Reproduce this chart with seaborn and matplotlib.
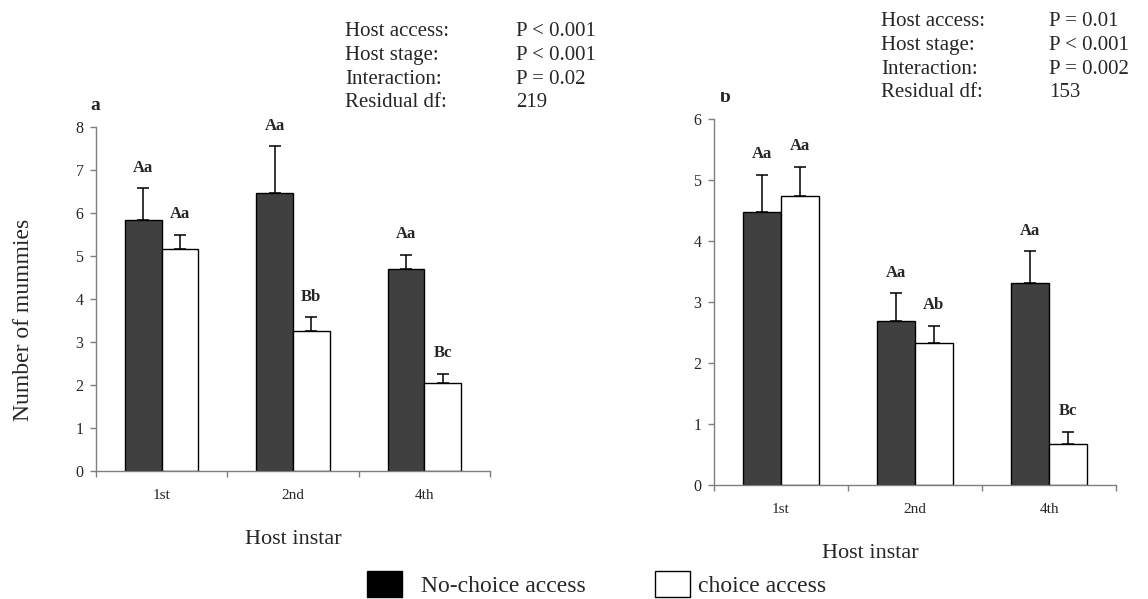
import pandas as pd
import seaborn as sns
import matplotlib.pyplot as plt
from matplotlib.patches import Patch
from matplotlib.transforms import Bbox, TransformedBbox

# categories
instars = ["1st", "2nd", "4th"]
access = ["No-choice access", "choice access"]

# panel a: mean number of mummies and upper SE
a_nochoice = [5.84, 6.47, 4.69]
a_choice = [5.17, 3.26, 2.04]
a_nochoice_se = [0.73, 1.08, 0.34]
a_choice_se = [0.32, 0.31, 0.22]
a_letters_nochoice = ["Aa", "Aa", "Aa"]
a_letters_choice = ["Aa", "Bb", "Bc"]

# panel b
b_nochoice = [4.47, 2.69, 3.31]
b_choice = [4.74, 2.32, 0.67]
b_nochoice_se = [0.62, 0.45, 0.52]
b_choice_se = [0.48, 0.29, 0.20]
b_letters_nochoice = ["Aa", "Aa", "Aa"]
b_letters_choice = ["Aa", "Ab", "Bc"]

# anova summaries printed above each panel
stat_names = ["Host access:", "Host stage:", "Interaction:", "Residual df:"]
a_stat_values = ["P < 0.001", "P < 0.001", "P = 0.02", "219"]
b_stat_values = ["P = 0.01", "P < 0.001", "P = 0.002", "153"]

W, H = 1148, 599
GREY = "#7f7f7f"

sns.set_theme(style="ticks")
plt.rcParams["font.family"] = ["Liberation Serif", "DejaVu Serif"]

fig = plt.figure(figsize=(W / 100, H / 100), dpi=100)


def px(x, y):
    # pixel position -> figure fraction
    return x / W, 1 - y / H


def draw_panel(ax, nochoice, choice, nc_se, c_se, nc_let, c_let, ymax):
    df = pd.DataFrame({
        "instar": instars * 2,
        "access": [access[0]] * 3 + [access[1]] * 3,
        "mummies": nochoice + choice,
    })
    sns.barplot(data=df, x="instar", y="mummies", hue="access",
                order=instars, hue_order=access,
                palette=["#404040", "white"], saturation=1,
                edgecolor="black", linewidth=1, width=0.56,
                errorbar=None, legend=False, ax=ax)

    # upper-only SE bars and the letters, placed on seaborn's own bars
    for bars, se, letters in zip(ax.containers, [nc_se, c_se], [nc_let, c_let]):
        xs = [b.get_x() + b.get_width() / 2 for b in bars]
        hs = [b.get_height() for b in bars]
        ax.errorbar(xs, hs, yerr=[[0] * len(se), se], fmt="none",
                    ecolor="black", elinewidth=1.1, capsize=4.5, capthick=1.1)
        for x, h, s, lab in zip(xs, hs, se, letters):
            ax.annotate(lab, (x, h + s), xytext=(0, 15), textcoords="offset points",
                        ha="center", va="center", fontsize=12, fontweight="bold")

    sns.despine(ax=ax)
    for s in ["left", "bottom"]:
        ax.spines[s].set_color(GREY)
        ax.spines[s].set_linewidth(1)
    ax.set_ylim(0, ymax)
    ax.set_yticks(range(ymax + 1))
    ax.set_xlim(-0.5, 2.5)
    ax.set_xticks([-0.5, 0.5, 1.5, 2.5])
    ax.set_xticklabels([])
    ax.set_xticks([0, 1, 2], labels=instars, minor=True)
    ax.tick_params(axis="x", which="major", length=4, width=1, color=GREY, direction="out")
    ax.tick_params(axis="x", which="minor", length=0, pad=13, labelsize=11)
    ax.tick_params(axis="y", length=4, width=1, color=GREY, direction="out",
                   pad=5, labelsize=11.5)
    ax.set_ylabel("")
    ax.set_xlabel("Host instar", fontsize=16)
    ax.xaxis.label.set_va("center")


# panel a
ax_a = fig.add_axes([96 / W, 1 - 471 / H, 394 / W, 344 / H])
draw_panel(ax_a, a_nochoice, a_choice, a_nochoice_se, a_choice_se,
           a_letters_nochoice, a_letters_choice, 8)
ax_a.xaxis.set_label_coords(0.5, (471 - 539) / 344)
ax_a.set_ylabel("Number of mummies", fontsize=17)
ax_a.yaxis.label.set_va("center")
ax_a.yaxis.set_label_coords((24 - 96) / 394, (471 - 320) / 344)

# panel b
ax_b = fig.add_axes([714 / W, 1 - 485 / H, 402 / W, 366 / H])
draw_panel(ax_b, b_nochoice, b_choice, b_nochoice_se, b_choice_se,
           b_letters_nochoice, b_letters_choice, 6)
ax_b.xaxis.set_label_coords((870 - 714) / 402, (485 - 554) / 366)

# panel letters ("b" is cut off at the top in the original)
fig.text(*px(95, 105), "a", fontsize=14, fontweight="bold", ha="center", va="center")
tb = fig.text(*px(725, 97), "b", fontsize=14, fontweight="bold", ha="center", va="center")
tb.set_clip_box(TransformedBbox(Bbox([[0, 0], [1, 1 - 92 / H]]), fig.transFigure))
tb.set_clip_on(True)

# stats blocks
for i, (name, va_, vb_) in enumerate(zip(stat_names, a_stat_values, b_stat_values)):
    ya = 32 + 23.6 * i
    yb = 22 + 23.6 * i
    fig.text(*px(345, ya), name, fontsize=15, ha="left", va="center")
    fig.text(*px(516, ya), va_, fontsize=15, ha="left", va="center")
    fig.text(*px(881, yb), name, fontsize=15, ha="left", va="center")
    fig.text(*px(1049, yb), vb_, fontsize=15, ha="left", va="center")

# shared legend at the bottom, one entry each so the gaps match the original
fig.legend([Patch(facecolor="black", edgecolor="black", linewidth=1)], access[:1],
           loc="center left", bbox_to_anchor=px(367, 584), frameon=False, fontsize=17,
           handlelength=1.5, handleheight=1.3, handletextpad=0.8,
           borderpad=0, borderaxespad=0)
fig.legend([Patch(facecolor="white", edgecolor="black", linewidth=1)], access[1:],
           loc="center left", bbox_to_anchor=px(655, 584), frameon=False, fontsize=17,
           handlelength=1.5, handleheight=1.3, handletextpad=0.3,
           borderpad=0, borderaxespad=0)

fig.savefig("out.png", dpi=100)
